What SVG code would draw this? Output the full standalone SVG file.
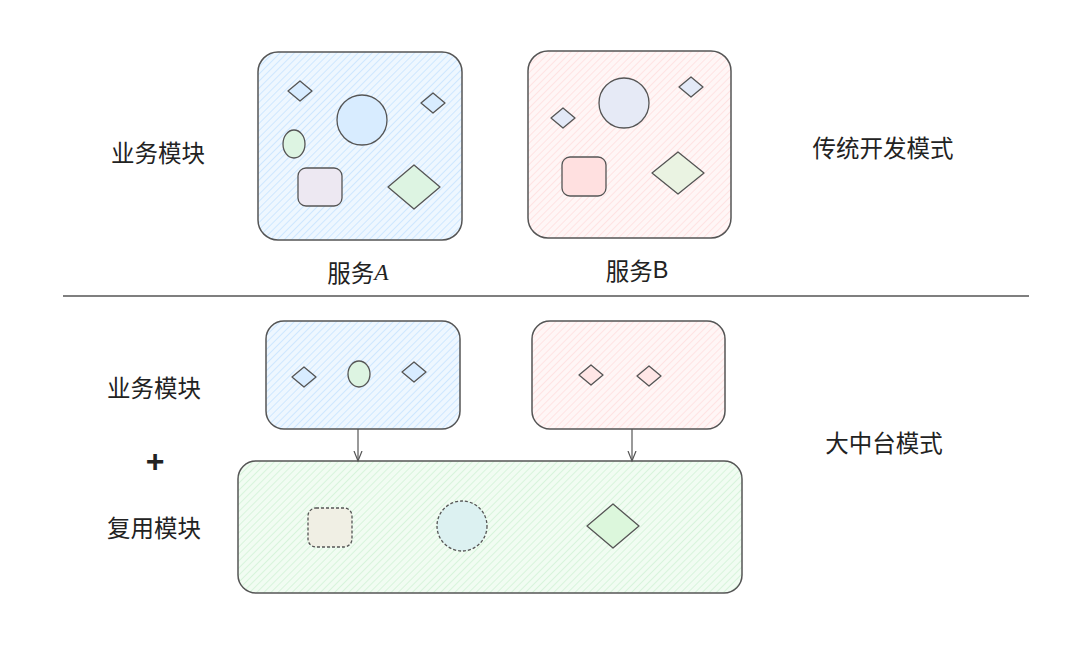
<svg xmlns="http://www.w3.org/2000/svg" width="1080" height="661" viewBox="0 0 1080 661">
<defs>
<pattern id="hBlue" width="5" height="5" patternUnits="userSpaceOnUse" patternTransform="rotate(45)"><rect width="5" height="5" fill="#eef7ff"/><line x1="0" y1="0" x2="0" y2="5" stroke="#c6e4ff" stroke-width="1.6"/></pattern>
<pattern id="hPink" width="5" height="5" patternUnits="userSpaceOnUse" patternTransform="rotate(45)"><rect width="5" height="5" fill="#fff6f6"/><line x1="0" y1="0" x2="0" y2="5" stroke="#ffdede" stroke-width="1.6"/></pattern>
<pattern id="hGreen" width="5" height="5" patternUnits="userSpaceOnUse" patternTransform="rotate(45)"><rect width="5" height="5" fill="#f1fcf2"/><line x1="0" y1="0" x2="0" y2="5" stroke="#d2f3d7" stroke-width="1.6"/></pattern>
<marker id="arr" viewBox="0 0 12 12" refX="10" refY="6" markerWidth="12" markerHeight="12" markerUnits="userSpaceOnUse" orient="auto"><path d="M0,2 L10,6 L0,10" fill="none" stroke="#555" stroke-width="1.2"/></marker>
<style>
.box{stroke:#555;stroke-width:1.5}
.sh{stroke:#555;stroke-width:1.3;stroke-linejoin:round}
.lbl{font-family:"Noto Sans CJK SC","Noto Sans",sans-serif;font-size:23.5px;fill:#222;text-anchor:middle;dominant-baseline:central}
.plus{font-family:"Liberation Sans",sans-serif;font-size:32px;font-weight:bold;fill:#222;text-anchor:middle;dominant-baseline:central}
.conn{stroke:#555;stroke-width:1.2;fill:none}
</style>
</defs>
<rect width="1080" height="661" fill="#fff"/>

<g id="serviceA">
<rect class="box" x="258" y="52" width="204" height="188" rx="20" fill="url(#hBlue)"/>
<polygon class="sh" points="288,91 300,81 312,91 300,101" fill="#d8ecff"/>
<circle class="sh" cx="362" cy="120" r="25" fill="#d8ecff"/>
<polygon class="sh" points="421,103 433,93 445,103 433,113" fill="#d8ecff"/>
<ellipse class="sh" cx="294" cy="144" rx="11" ry="14" fill="#ddf4e2"/>
<rect class="sh" x="298" y="168" width="44" height="38" rx="8" fill="#ede8f2"/>
<polygon class="sh" points="388,187 414,165 440,187 414,209" fill="#ddf4e2"/>
</g>

<g id="serviceB">
<rect class="box" x="528" y="51" width="203" height="187" rx="20" fill="url(#hPink)"/>
<circle class="sh" cx="624" cy="103" r="25" fill="#e6eaf6"/>
<polygon class="sh" points="679,87 691,77 703,87 691,97" fill="#e3e9f7"/>
<polygon class="sh" points="551,118 563,108 575,118 563,128" fill="#e3e9f7"/>
<rect class="sh" x="562" y="157" width="44" height="39" rx="8" fill="#ffe0e0"/>
<polygon class="sh" points="652,173 678,152 704,173 678,194" fill="#eaf3e2"/>
</g>

<g id="labels-top">
<text class="lbl" x="158" y="152">业务模块</text>
<text class="lbl" x="883" y="147">传统开发模式</text>
<text class="lbl" x="358" y="272">服务<tspan font-family="'Liberation Serif',serif" font-style="italic">A</tspan></text>
<text class="lbl" x="637" y="270">服务<tspan font-family="'Liberation Sans',sans-serif">B</tspan></text>
</g>

<g id="divider">
<line x1="63" y1="296" x2="1029" y2="296" stroke="#555" stroke-width="1.3"/>
</g>

<g id="bizA">
<rect class="box" x="266" y="321" width="194" height="108" rx="18" fill="url(#hBlue)"/>
<polygon class="sh" points="292,377 304,367 316,377 304,387" fill="#d8ecff"/>
<ellipse class="sh" cx="359" cy="374" rx="11" ry="13" fill="#ddf4e2"/>
<polygon class="sh" points="402,372 414,362 426,372 414,382" fill="#d8ecff"/>
</g>

<g id="bizB">
<rect class="box" x="532" y="321" width="193" height="108" rx="18" fill="url(#hPink)"/>
<polygon class="sh" points="579,375 591,365 603,375 591,385" fill="#ffe6e6"/>
<polygon class="sh" points="637,376 649,366 661,376 649,386" fill="#ffe6e6"/>
</g>

<g id="reuse">
<rect class="box" x="238" y="461" width="504" height="132" rx="18" fill="url(#hGreen)"/>
<rect class="sh" x="308" y="508" width="44" height="39" rx="8" fill="#f0efe4" stroke-dasharray="3 2"/>
<circle class="sh" cx="462" cy="526" r="25" fill="#dcf1f1" stroke-dasharray="3 2"/>
<polygon class="sh" points="587,526 613,504 639,526 613,548" fill="#dcf7dc"/>
</g>

<g id="connectors">
<line class="conn" x1="358" y1="429" x2="358" y2="461" marker-end="url(#arr)"/>
<line class="conn" x1="632" y1="429" x2="632" y2="461" marker-end="url(#arr)"/>
</g>

<g id="labels-bottom">
<text class="lbl" x="154" y="387">业务模块</text>
<text class="plus" x="155" y="461">+</text>
<text class="lbl" x="154" y="527">复用模块</text>
<text class="lbl" x="884" y="442">大中台模式</text>
</g>
</svg>
